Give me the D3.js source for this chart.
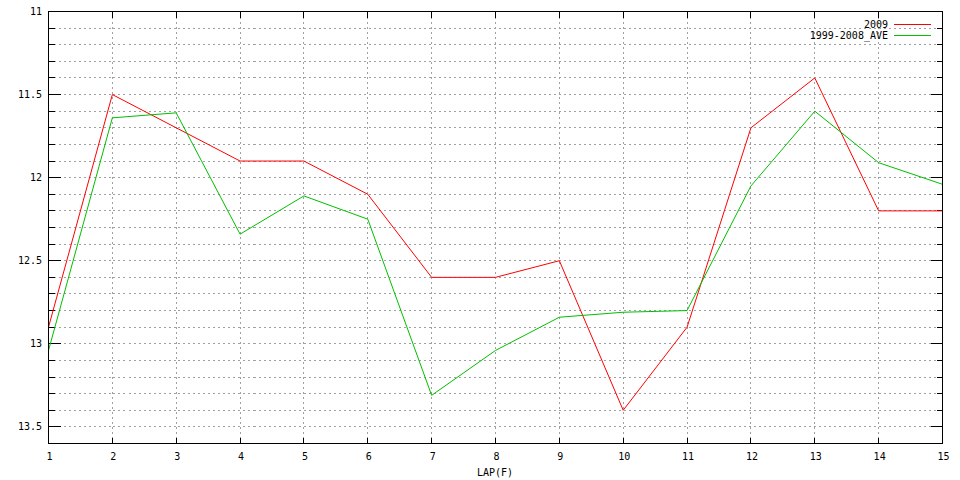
<!DOCTYPE html>
<html><head><meta charset="utf-8">
<script src="https://cdn.jsdelivr.net/npm/d3@7"></script>
<style>
body{margin:0;background:#fff;}
svg text{font-family:"DejaVu Sans Mono",monospace;font-size:10px;fill:#000;}
</style></head>
<body>
<svg id="c" width="960" height="480"></svg>
<script>
const laps = [1,2,3,4,5,6,7,8,9,10,11,12,13,14,15];
const series2009 = [12.9,11.5,11.7,11.9,11.9,12.1,12.6,12.6,12.5,13.4,12.9,11.7,11.4,12.2,12.2];
const seriesAve = [13.04,11.64,11.61,12.34,12.11,12.25,13.31,13.04,12.84,12.81,12.80,12.05,11.6,11.91,12.04];
const seriesNames = ["2009","1999-2008_AVE"];
const seriesColors = ["#ff0000","#00c000"];
const yMajorTicks = [11,11.5,12,12.5,13,13.5];
const yMinorTicks = d3.range(111,137).map(v=>v/10);
const xLabel = "LAP(F)";

const svg = d3.select("#c");
const L=48.5, R=942.5, T=11.5, B=443.5;
const x = d3.scaleLinear().domain([1,15]).range([L,R]);
const y = d3.scaleLinear().domain([11,13.6]).range([T,B]);
const px = v=>Math.round(v)+0.5;

// grid
const g = svg.append("g");
yMinorTicks.forEach(v=>{
  g.append("line").attr("x1",L).attr("x2",R).attr("y1",px(y(v)-0.5)).attr("y2",px(y(v)-0.5))
   .attr("stroke","#a0a0a0").attr("stroke-dasharray","2,3").attr("shape-rendering","crispEdges");
});
laps.slice(1,-1).forEach(v=>{
  g.append("line").attr("y1",T).attr("y2",B).attr("x1",px(x(v)-0.5)).attr("x2",px(x(v)-0.5))
   .attr("stroke","#a0a0a0").attr("stroke-dasharray","2,3").attr("shape-rendering","crispEdges");
});

// ticks
const tk = svg.append("g").attr("stroke","#000").attr("shape-rendering","crispEdges");
yMinorTicks.forEach(v=>{
  const major = yMajorTicks.some(m=>Math.abs(m-v)<1e-6);
  const len = major?12:6;
  const yy = px(y(v)-0.5);
  tk.append("line").attr("x1",L).attr("x2",L+len).attr("y1",yy).attr("y2",yy);
  tk.append("line").attr("x1",R).attr("x2",R-len).attr("y1",yy).attr("y2",yy);
});
laps.forEach(v=>{
  const xx = px(x(v)-0.5);
  tk.append("line").attr("x1",xx).attr("x2",xx).attr("y1",B).attr("y2",B-6);
  tk.append("line").attr("x1",xx).attr("x2",xx).attr("y1",T).attr("y2",T+6);
});

// labels
yMajorTicks.forEach(v=>{
  svg.append("text").attr("x",42).attr("y",y(v)).attr("dy","0.35em").attr("text-anchor","end").text(d3.format("")(v));
});
laps.forEach(v=>{
  svg.append("text").attr("x",x(v)+1).attr("y",456).attr("dy","0.35em").attr("text-anchor","middle").text(v);
});
svg.append("text").attr("x",495).attr("y",472).attr("dy","0.35em").attr("text-anchor","middle").text(xLabel);

// lines
const line = d3.line().x((d,i)=>x(laps[i])).y(d=>y(d));
[series2009,seriesAve].forEach((s,i)=>{
  svg.append("path").datum(s).attr("d",line).attr("fill","none")
    .attr("stroke",seriesColors[i]).attr("stroke-width",1);
});

// border
svg.append("rect").attr("x",L).attr("y",T).attr("width",R-L).attr("height",B-T)
  .attr("fill","none").attr("stroke","#000").attr("shape-rendering","crispEdges");

// legend
seriesNames.forEach((n,i)=>{
  const yy = 24 + i*11;
  svg.append("text").attr("x",888).attr("y",yy).attr("dy","0.35em").attr("text-anchor","end").text(n);
  svg.append("line").attr("x1",894).attr("x2",931).attr("y1",yy+0.5).attr("y2",yy+0.5)
    .attr("stroke",seriesColors[i]).attr("shape-rendering","crispEdges");
});
</script>
</body></html>
